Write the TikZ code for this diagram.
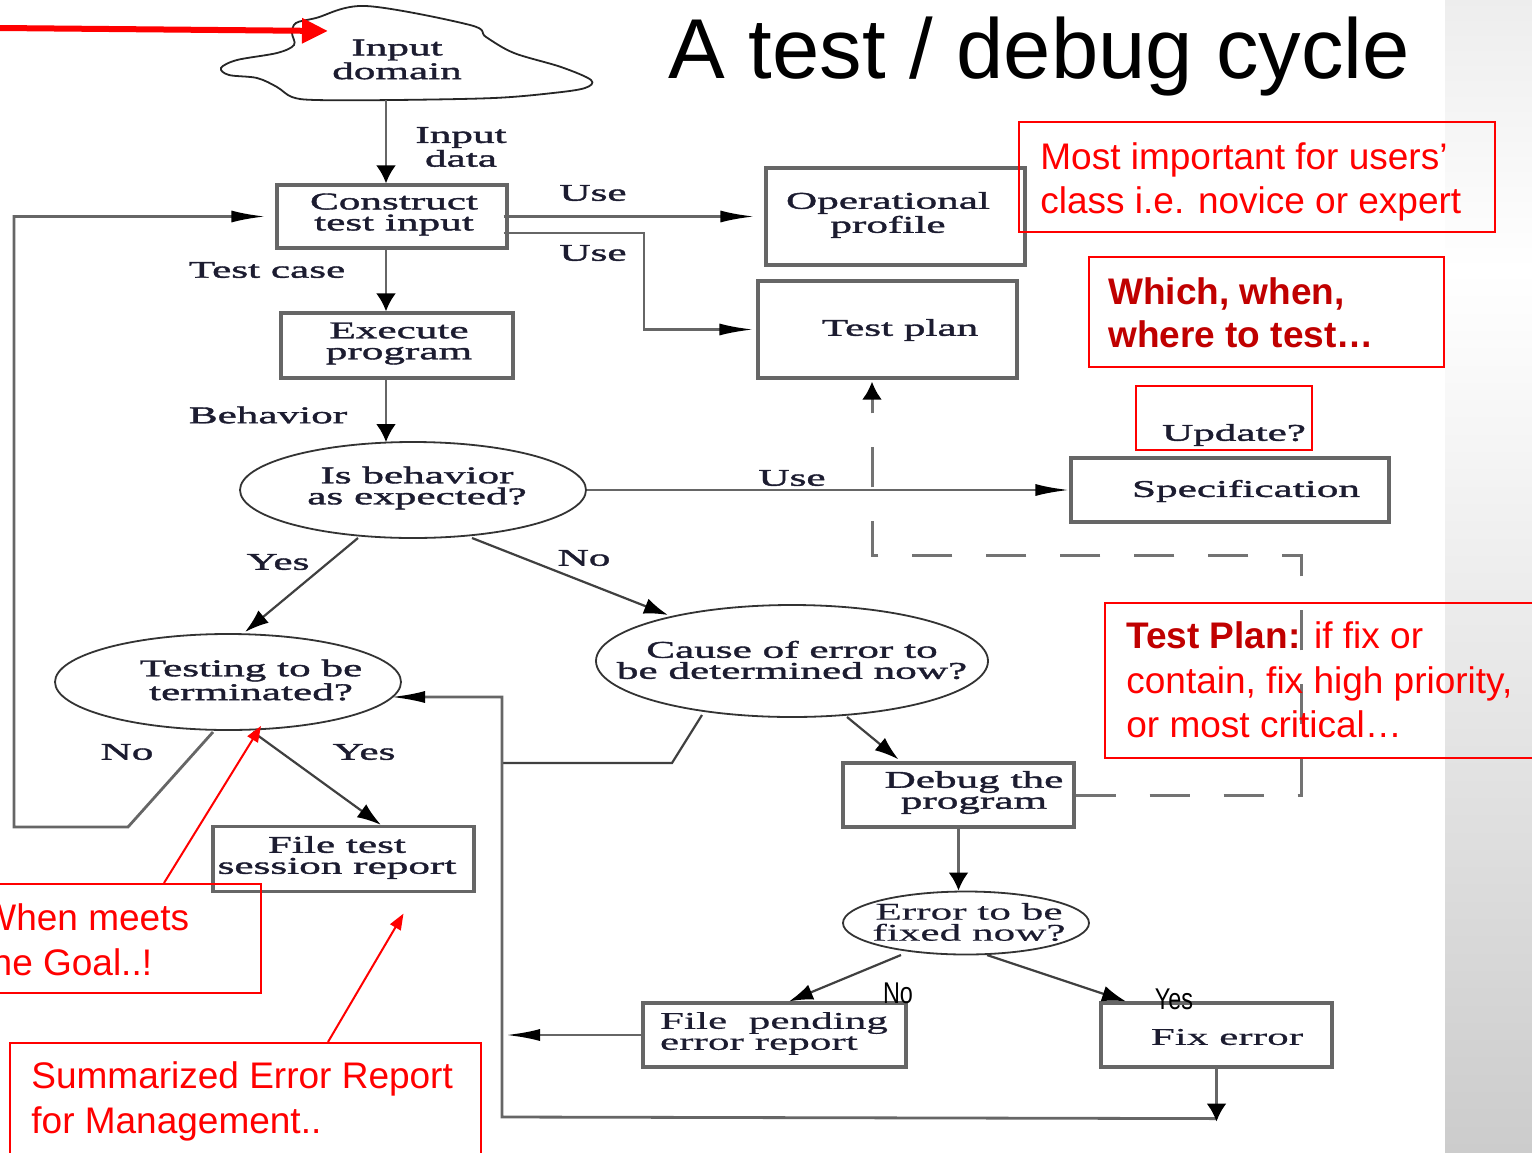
\documentclass[tikz,border=0pt]{standalone}
\usepackage{fontspec}
\setmainfont{Liberation Sans}
\newfontfamily\dgfont[FakeStretch=1.8,FakeBold=1.6]{Liberation Serif}
\newfontfamily\dglfont[FakeStretch=1.8,FakeBold=0.4]{Liberation Serif}
\newfontfamily\nrwfont[FakeStretch=0.78]{Liberation Sans}
\usetikzlibrary{arrows.meta,calc,shapes.geometric}
\definecolor{annred}{RGB}{255,0,0}
\definecolor{darkred}{RGB}{192,0,0}
\definecolor{dgtext}{RGB}{28,28,48}
\begin{document}
\begin{tikzpicture}[x=0.5pt,y=-0.5pt,
  box/.style={draw=black!60,line width=1.6pt,rectangle,inner sep=0pt},
  ell/.style={draw=black!80,line width=0.9pt,ellipse,inner sep=0pt},
  dgtxt/.style={font=\dgfont\fontsize{12}{10.5}\selectfont,text=dgtext,align=center,inner sep=0pt},
  dgltxt/.style={font=\dglfont\fontsize{12}{10.5}\selectfont,text=dgtext,align=center,inner sep=0pt},
  nrwtxt/.style={font=\nrwfont\fontsize{15}{18}\selectfont,text=black,inner sep=0pt},
  conn/.style={draw=black!60,line width=1.4pt},
  dconn/.style={draw=black!75,line width=1.1pt},
  dashline/.style={draw=black!55,line width=1.5pt,dash pattern=on 20pt off 17pt},
  harr/.style={-{Latex[length=17pt,width=6pt,color=black]}},
  varr/.style={-{Latex[length=9pt,width=10pt,color=black]}},
  darr/.style={-{Latex[length=12pt,width=8pt,color=black]}},
  redbox/.style={draw=annred,line width=1pt,rectangle,inner sep=0pt},
  redtxt/.style={font=\fontsize{18.5}{22.5}\selectfont,text=annred,anchor=base west,inner sep=0pt},
  redbold/.style={font=\bfseries\fontsize{18.5}{22.5}\selectfont,text=darkred,anchor=base west,inner sep=0pt},
  redarr/.style={draw=annred,line width=1pt,-{Triangle[length=8pt,width=6pt]}},
  bigred/.style={draw=annred,line width=3pt,-{Triangle[length=13pt,width=12pt]}}
]
\useasboundingbox (0,0) rectangle (1532,1152);
\clip (0,0) rectangle (1532,1152);
\fill[white] (0,0) rectangle (1532,1152);
\shade[top color=black!7,bottom color=white] (1445,0) rectangle (1532,270);
\shade[top color=white,bottom color=black!20] (1445,270) rectangle (1532,1152);

% title
\node[font=\fontsize{42.5}{50}\selectfont,anchor=base west,inner sep=0pt] (title) at (668,78) {A test / debug cycle};

% cloud
\draw[black!85,line width=0.9pt] plot[smooth cycle,tension=0.55] coordinates {
 (366,6) (470,25) (486,37) (514,53) (561,67) (591,80) (585,88) (553,93) (494,98)
 (395,100) (316,100) (292,97) (277,87) (257,78) (229,75) (221,68) (237,60) (277,53)
 (294,45) (292,33) (296,23) (316,18)};
\node[dgtxt] (cloudtxt) at (397,59.5) {Input\\domain};
\coordinate (cloudb) at (386,100);

% boxes
\node[box,minimum width=115pt,minimum height=31.5pt] (construct) at (392,216.5) {};
\node[box,minimum width=129.5pt,minimum height=48.5pt] (operational) at (895.5,216.5) {};
\node[box,minimum width=129.5pt,minimum height=48.5pt] (testplan) at (887.5,329.5) {};
\node[box,minimum width=116pt,minimum height=32.5pt] (execute) at (397,345.5) {};
\node[box,minimum width=159pt,minimum height=32pt] (spec) at (1230,490) {};
\node[box,minimum width=130.5pt,minimum height=32.5pt] (filetest) at (343.5,859) {};
\node[box,minimum width=115.5pt,minimum height=32pt] (debug) at (958.5,795) {};
\node[box,minimum width=131.5pt,minimum height=32pt] (pending) at (774.5,1035) {};
\node[box,minimum width=115.5pt,minimum height=32pt] (fix) at (1216.5,1035) {};

% ellipses
\node[ell,minimum width=173pt,minimum height=48pt] (isbeh) at (413,490) {};
\node[ell,minimum width=173pt,minimum height=48pt] (testing) at (228,682) {};
\node[ell,minimum width=196pt,minimum height=56pt] (cause) at (792,661) {};
\node[ell,minimum width=123pt,minimum height=31.5pt] (errfix) at (966,923) {};

% texts
\node[dgtxt] (indata) at (461,147) {Input\\data};
\node[dgtxt] (ctxt) at (394,214.5) {Construct\\test input};
\node[dgtxt] (use1) at (593,193) {Use};
\node[dgtxt] (use2) at (593,253) {Use};
\node[dgtxt] (optxt) at (888,215) {Operational\\profile};
\node[dgtxt] (tptxt) at (900,330) {Test plan};
\node[dgtxt] (tcase) at (267,270) {Test case};
\node[dgtxt] (extxt) at (399,343.5) {Execute\\program};
\node[dgtxt] (behav) at (268,415) {Behavior};
\node[dgtxt] (ibtxt) at (417,488) {Is behavior\\as expected?};
\node[dgtxt] (use3) at (792,478) {Use};
\node[dgtxt] (updtxt) at (1234,435) {Update?};
\node[dgtxt] (sptxt) at (1246,491) {Specification};
\node[dgtxt] (yes1) at (278,562) {Yes};
\node[dgtxt] (no1) at (584,558) {No};
\node[dgtxt] (tstxt) at (251,680) {Testing to be\\terminated?};
\node[dgtxt] (cstxt) at (792,660) {Cause of error to\\be determined now?};
\node[dgtxt] (no2) at (127,752) {No};
\node[dgtxt] (yes2) at (364,752) {Yes};
\node[dgtxt] (fttxt) at (337,857.5) {File test\\session report};
\node[dgtxt] (dbtxt) at (974,792.5) {Debug the\\program};
\node[dgltxt] (eftxt) at (969,922) {Error to be\\fixed now?};
\node[nrwtxt] (no3) at (898,993) {No};
\node[nrwtxt] (yes3) at (1174,999) {Yes};
\node[dgltxt,align=left] (pdtxt) at (774,1033.5) {File~~pending\\error report};
\node[dgltxt] (fxtxt) at (1227,1037) {Fix error};

% coordinates
\coordinate (tpc) at (644,233);
\coordinate (nob) at (128,827);
\coordinate (noc) at (14,827);
\coordinate (retc) at (502,1117);
\coordinate (retup) at (502,697);
\coordinate (cbr) at (672,763);
\coordinate (dashr) at (1301,555);
\coordinate (dcor) at (872,555);

% connectors
\draw[conn,varr] (cloudb) -- (cloudb |- construct.north);
\draw[conn,harr] ($(construct.east)+(-5,0)$) -- ($(operational.west)+(-10,0)$);
\draw[conn,harr] ($(construct.east)+(-5,16.5)$) -- (tpc) -- (tpc |- testplan.west) -- ($(testplan.west)+(-3,0)$);
\draw[conn,varr] (construct.south -| cloudb) -- (execute.north -| cloudb);
\draw[conn,varr] (execute.south -| cloudb) -- ($(isbeh.north -| cloudb)+(0,1)$);
\draw[conn,harr] (isbeh.east) -- (spec.west);
\draw[dconn,darr] ($(isbeh.center)+(-55,48)$) -- ($(testing.center)+(17,-50)$);
\draw[dconn,darr] ($(isbeh.center)+(59,48)$) -- ($(cause.center)+(-124,-46)$);
\draw[conn,harr] ($(testing.center)+(-15,50)$) -- (nob) -- (noc) -- (noc |- construct.west) -- ($(construct.west)+(-10,0)$);
\draw[dconn,darr] ($(testing.center)+(25,50)$) -- ($(filetest.north)+(37.5,0)$);
\draw[dconn,darr] ($(cause.center)+(55,56)$) -- ($(debug.north)+(-60,-2)$);
\draw[dconn] ($(cause.center)+(-90,54)$) -- (cbr) -- (cbr -| retc);
\draw[conn,varr] (debug.south) -- (debug.south |- errfix.north);
\draw[dconn,darr] ($(errfix.center)+(-65,32)$) -- ($(pending.north)+(14.5,0)$);
\draw[dconn,darr] ($(errfix.center)+(21,32)$) -- ($(fix.north)+(-90.5,0)$);
\draw[conn,harr] ($(fix.south)+(0,50)$) -- (retc) -- (retup) -- ($(testing.center)+(163,15)$);
\draw[conn,varr] (fix.south) -- ($(fix.south)+(0,53)$);
\draw[conn,harr] (pending.west) -- ($(retc |- pending.west)+(4,0)$);
\draw[dashline,varr] (debug.east) -| (dashr) -- (dcor) -- ($(dcor |- testplan.south)+(0,2)$);

% red annotations
\node[redbox,minimum width=238pt,minimum height=55pt] (rb1) at (1257,177) {};
\node[redtxt] (rb1a) at (1040,169) {Most important for users’};
\node[redtxt] (rb1b) at (1040,213) {class i.e. novice or expert};
\node[redbox,minimum width=177.5pt,minimum height=55pt] (rb2) at (1266.5,312) {};
\node[redbold] (rb2a) at (1108,304) {Which, when,};
\node[redbold] (rb2b) at (1108,347) {where to test…};
\node[redbox,minimum width=88pt,minimum height=32pt] (upd) at (1224,418) {};
\node[redbox,minimum width=227.5pt,minimum height=77.5pt] (rb3) at (1332.5,680.5) {};
\node[redtxt] (rb3a) at (1126,648) {\textcolor{darkred}{\bfseries Test Plan:} if fix or};
\node[redtxt] (rb3b) at (1126,693) {contain, fix high priority,};
\node[redtxt] (rb3c) at (1126,737) {or most critical…};
\node[redbox,minimum width=145.5pt,minimum height=54.5pt] (rb4) at (115.5,938.5) {};
\node[redtxt] (rb4a) at (-19,930) {When meets};
\node[redtxt] (rb4b) at (-19,975) {the Goal..!};
\node[redbox,minimum width=235.5pt,minimum height=63.5pt] (rb5) at (245.5,1106.5) {};
\node[redtxt] (rb5a) at (31,1088) {Summarized Error Report};
\node[redtxt] (rb5b) at (31,1133) {for Management..};
\draw[redarr] ($(rb4.north)+(48.5,0)$) -- ($(testing.south)+(33,-5)$);
\draw[redarr] ($(rb5.north)+(82.5,0)$) -- ($(filetest.south)+(60,20.5)$);
\coordinate (rstart) at (0,28);
\draw[bigred] (rstart) -- ($(cloudtxt.center)+(-69,-28.5)$);
\end{tikzpicture}
\end{document}
